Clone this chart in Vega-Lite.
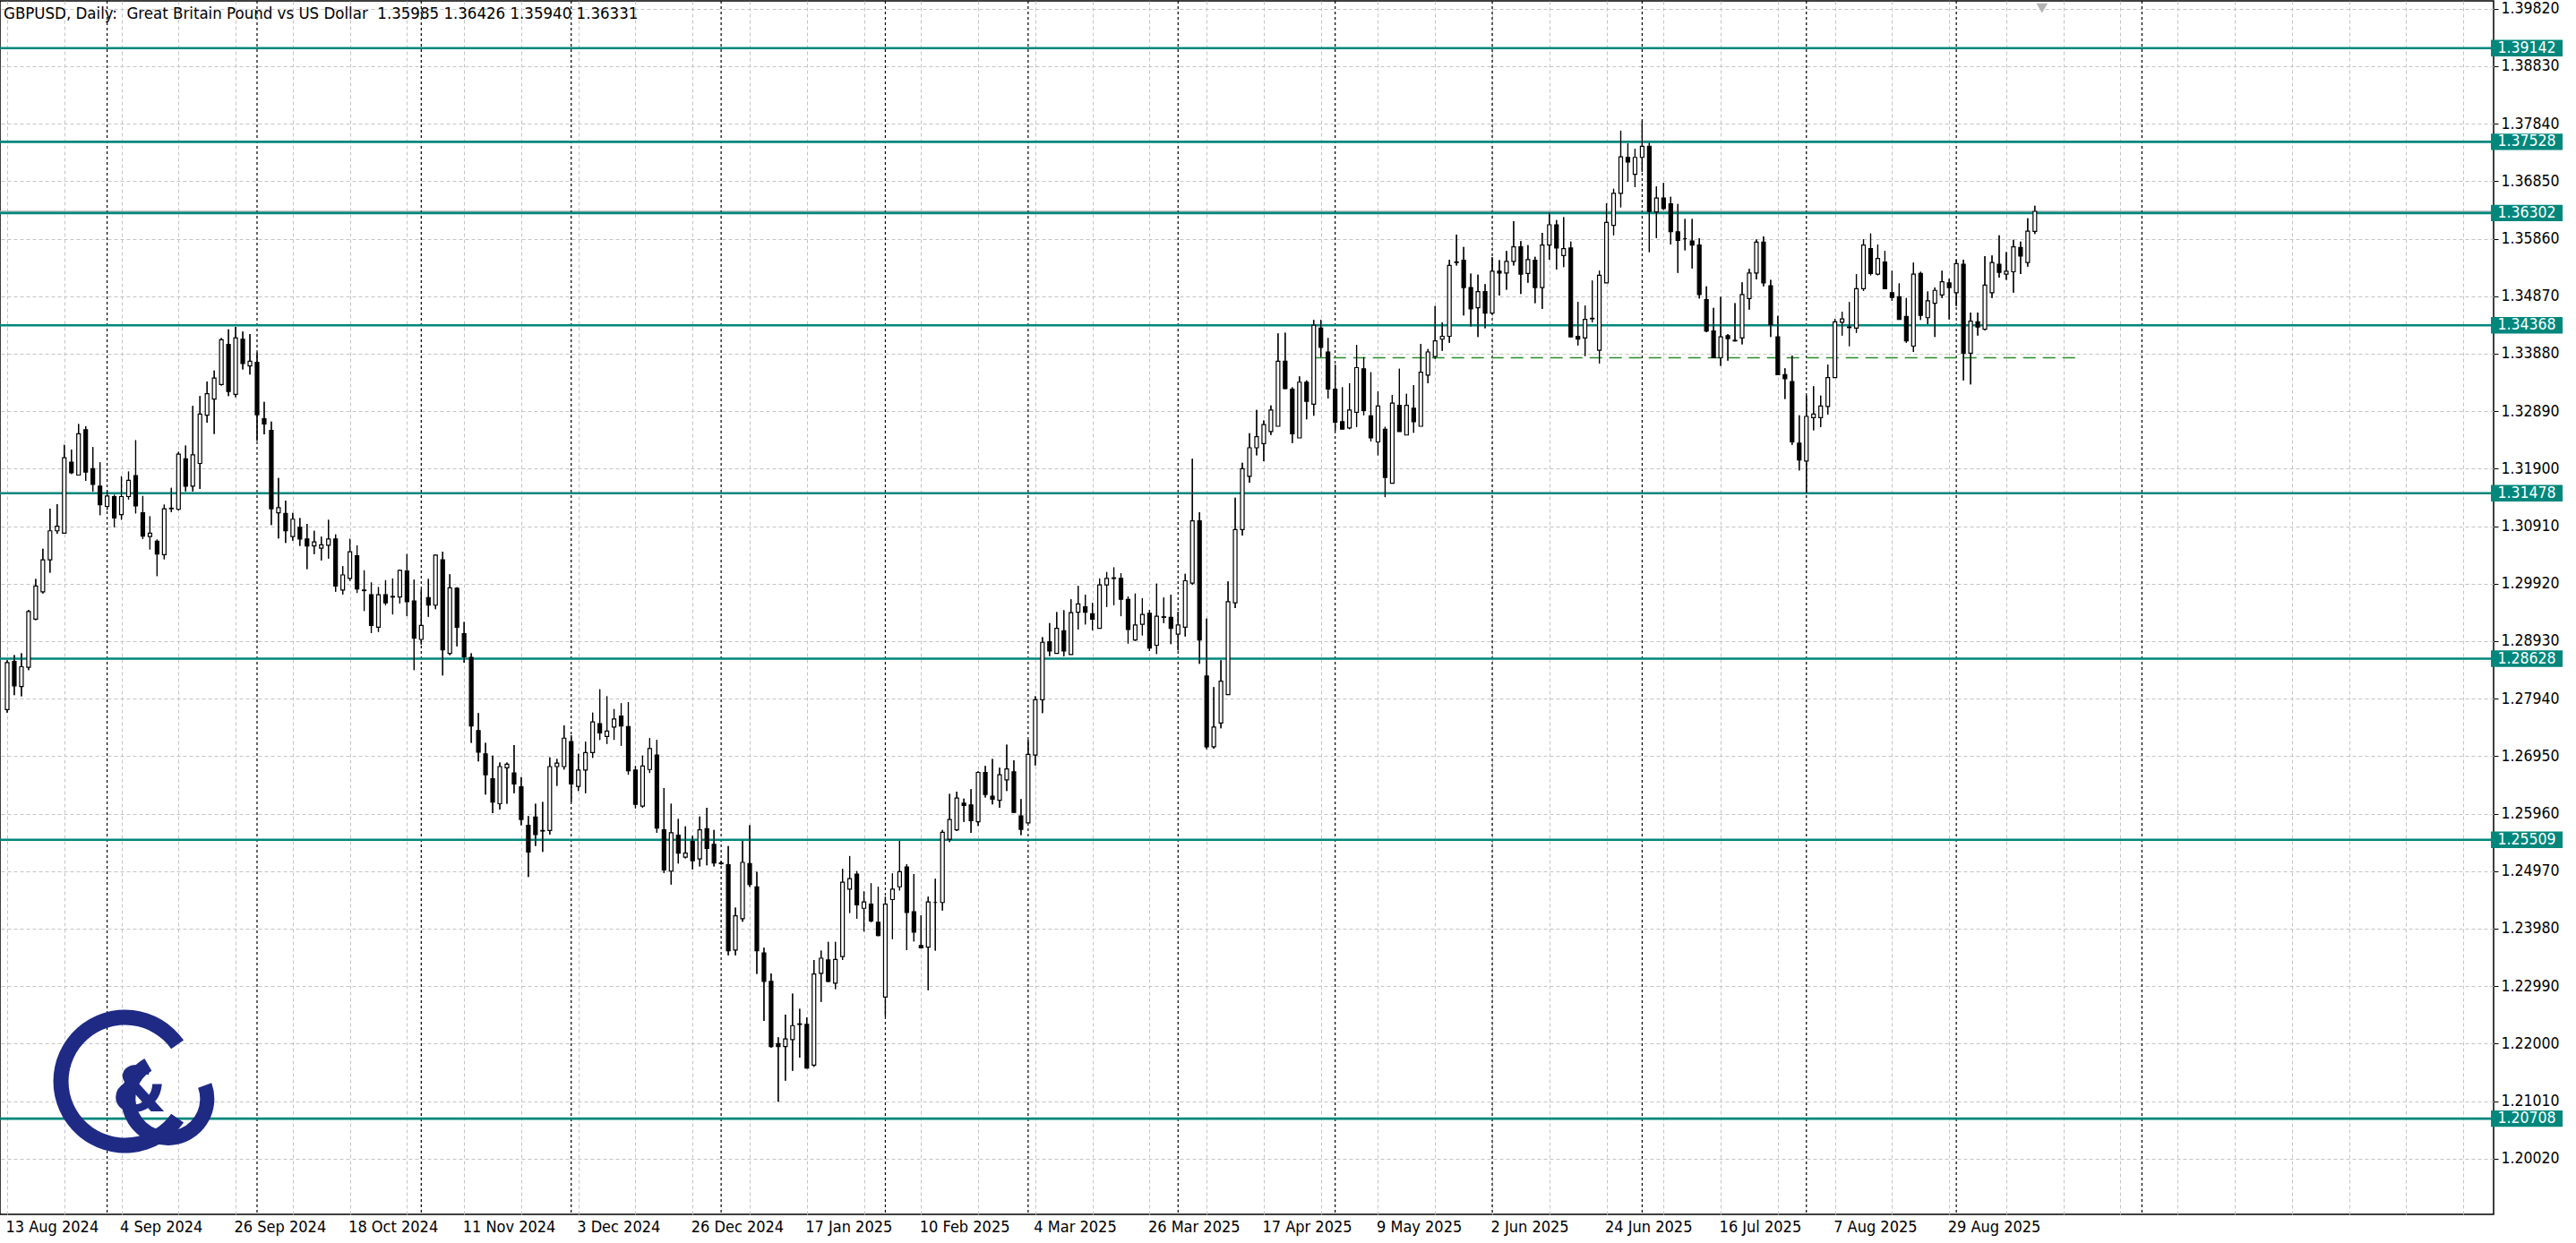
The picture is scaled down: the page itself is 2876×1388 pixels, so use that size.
{
"$schema":"https://vega.github.io/schema/vega-lite/v6.json",
"width":2784,"height":1355,"autosize":"none",
"padding":{"left":0,"top":1,"right":92,"bottom":32},
"background":"white",
"config":{"view":{"stroke":"#000000","strokeWidth":1.5},"font":"DejaVu Sans Condensed, DejaVu Sans"},
"title":{"text":"GBPUSD, Daily:\u00a0 Great Britain Pound vs US Dollar\u00a0 1.35985 1.36426 1.35940 1.36331","anchor":"start","frame":"group","offset":-24,"dx":4,"fontSize":18.5,"fontWeight":"normal","color":"#000000","font":"DejaVu Sans Condensed, DejaVu Sans"},
"datasets":{
"bars":[
{"i":0,"d":"2024-08-13","o":1.2775,"h":1.2860,"l":1.2770,"c":1.2856},
{"i":1,"d":"2024-08-14","o":1.2858,"h":1.2869,"l":1.2800,"c":1.2816},
{"i":2,"d":"2024-08-15","o":1.2815,"h":1.2872,"l":1.2798,"c":1.2849},
{"i":3,"d":"2024-08-16","o":1.2848,"h":1.2947,"l":1.2843,"c":1.2944},
{"i":4,"d":"2024-08-19","o":1.2931,"h":1.3000,"l":1.2929,"c":1.2988},
{"i":5,"d":"2024-08-20","o":1.2978,"h":1.3052,"l":1.2975,"c":1.3033},
{"i":6,"d":"2024-08-21","o":1.3033,"h":1.3121,"l":1.3011,"c":1.3083},
{"i":7,"d":"2024-08-22","o":1.3083,"h":1.3129,"l":1.3078,"c":1.3091},
{"i":8,"d":"2024-08-23","o":1.3079,"h":1.3231,"l":1.3079,"c":1.3209},
{"i":9,"d":"2024-08-26","o":1.3201,"h":1.3223,"l":1.3181,"c":1.3183},
{"i":10,"d":"2024-08-27","o":1.3179,"h":1.3267,"l":1.3179,"c":1.3250},
{"i":11,"d":"2024-08-28","o":1.3257,"h":1.3263,"l":1.3169,"c":1.3184},
{"i":12,"d":"2024-08-29","o":1.3190,"h":1.3227,"l":1.3151,"c":1.3163},
{"i":13,"d":"2024-08-30","o":1.3160,"h":1.3201,"l":1.3110,"c":1.3128},
{"i":14,"d":"2024-09-02","o":1.3125,"h":1.3151,"l":1.3119,"c":1.3143},
{"i":15,"d":"2024-09-03","o":1.3142,"h":1.3145,"l":1.3089,"c":1.3105},
{"i":16,"d":"2024-09-04","o":1.3111,"h":1.3177,"l":1.3102,"c":1.3142},
{"i":17,"d":"2024-09-05","o":1.3142,"h":1.3185,"l":1.3137,"c":1.3170},
{"i":18,"d":"2024-09-06","o":1.3178,"h":1.3239,"l":1.3113,"c":1.3126},
{"i":19,"d":"2024-09-09","o":1.3114,"h":1.3143,"l":1.3069,"c":1.3074},
{"i":20,"d":"2024-09-10","o":1.3073,"h":1.3108,"l":1.3051,"c":1.3079},
{"i":21,"d":"2024-09-11","o":1.3065,"h":1.3068,"l":1.3005,"c":1.3043},
{"i":22,"d":"2024-09-12","o":1.3042,"h":1.3128,"l":1.3034,"c":1.3121},
{"i":23,"d":"2024-09-13","o":1.3121,"h":1.3157,"l":1.3115,"c":1.3122},
{"i":24,"d":"2024-09-16","o":1.3120,"h":1.3219,"l":1.3118,"c":1.3215},
{"i":25,"d":"2024-09-17","o":1.3207,"h":1.3230,"l":1.3151,"c":1.3160},
{"i":26,"d":"2024-09-18","o":1.3160,"h":1.3298,"l":1.3151,"c":1.3214},
{"i":27,"d":"2024-09-19","o":1.3199,"h":1.3315,"l":1.3155,"c":1.3284},
{"i":28,"d":"2024-09-20","o":1.3282,"h":1.3340,"l":1.3269,"c":1.3319},
{"i":29,"d":"2024-09-23","o":1.3310,"h":1.3359,"l":1.3250,"c":1.3346},
{"i":30,"d":"2024-09-24","o":1.3335,"h":1.3415,"l":1.3333,"c":1.3412},
{"i":31,"d":"2024-09-25","o":1.3404,"h":1.3430,"l":1.3315,"c":1.3323},
{"i":32,"d":"2024-09-26","o":1.3318,"h":1.3434,"l":1.3313,"c":1.3415},
{"i":33,"d":"2024-09-27","o":1.3413,"h":1.3426,"l":1.3361,"c":1.3371},
{"i":34,"d":"2024-09-30","o":1.3367,"h":1.3422,"l":1.3352,"c":1.3375},
{"i":35,"d":"2024-10-01","o":1.3373,"h":1.3390,"l":1.3238,"c":1.3283},
{"i":36,"d":"2024-10-02","o":1.3276,"h":1.3305,"l":1.3249,"c":1.3267},
{"i":37,"d":"2024-10-03","o":1.3256,"h":1.3271,"l":1.3093,"c":1.3121},
{"i":38,"d":"2024-10-04","o":1.3114,"h":1.3174,"l":1.3070,"c":1.3123},
{"i":39,"d":"2024-10-07","o":1.3113,"h":1.3135,"l":1.3062,"c":1.3083},
{"i":40,"d":"2024-10-08","o":1.3073,"h":1.3114,"l":1.3066,"c":1.3103},
{"i":41,"d":"2024-10-09","o":1.3089,"h":1.3105,"l":1.3057,"c":1.3069},
{"i":42,"d":"2024-10-10","o":1.3069,"h":1.3095,"l":1.3017,"c":1.3057},
{"i":43,"d":"2024-10-11","o":1.3057,"h":1.3083,"l":1.3043,"c":1.3064},
{"i":44,"d":"2024-10-14","o":1.3053,"h":1.3073,"l":1.3032,"c":1.3059},
{"i":45,"d":"2024-10-15","o":1.3058,"h":1.3102,"l":1.3035,"c":1.3069},
{"i":46,"d":"2024-10-16","o":1.3069,"h":1.3077,"l":1.2978,"c":1.2988},
{"i":47,"d":"2024-10-17","o":1.2981,"h":1.3022,"l":1.2973,"c":1.3007},
{"i":48,"d":"2024-10-18","o":1.3001,"h":1.3069,"l":1.2997,"c":1.3047},
{"i":49,"d":"2024-10-21","o":1.3040,"h":1.3058,"l":1.2976,"c":1.2983},
{"i":50,"d":"2024-10-22","o":1.2981,"h":1.3015,"l":1.2945,"c":1.2980},
{"i":51,"d":"2024-10-23","o":1.2973,"h":1.2994,"l":1.2907,"c":1.2920},
{"i":52,"d":"2024-10-24","o":1.2917,"h":1.2986,"l":1.2909,"c":1.2973},
{"i":53,"d":"2024-10-25","o":1.2973,"h":1.2998,"l":1.2955,"c":1.2959},
{"i":54,"d":"2024-10-28","o":1.2969,"h":1.3001,"l":1.2939,"c":1.2970},
{"i":55,"d":"2024-10-29","o":1.2969,"h":1.3016,"l":1.2958,"c":1.3015},
{"i":56,"d":"2024-10-30","o":1.3014,"h":1.3043,"l":1.2936,"c":1.2961},
{"i":57,"d":"2024-10-31","o":1.2962,"h":1.2999,"l":1.2843,"c":1.2898},
{"i":58,"d":"2024-11-01","o":1.2896,"h":1.2982,"l":1.2887,"c":1.2920},
{"i":59,"d":"2024-11-04","o":1.2968,"h":1.3000,"l":1.2935,"c":1.2955},
{"i":60,"d":"2024-11-05","o":1.2955,"h":1.3042,"l":1.2948,"c":1.3041},
{"i":61,"d":"2024-11-06","o":1.3033,"h":1.3047,"l":1.2834,"c":1.2878},
{"i":62,"d":"2024-11-07","o":1.2872,"h":1.3008,"l":1.2869,"c":1.2985},
{"i":63,"d":"2024-11-08","o":1.2984,"h":1.2986,"l":1.2884,"c":1.2917},
{"i":64,"d":"2024-11-11","o":1.2906,"h":1.2926,"l":1.2856,"c":1.2866},
{"i":65,"d":"2024-11-12","o":1.2865,"h":1.2872,"l":1.2718,"c":1.2747},
{"i":66,"d":"2024-11-13","o":1.2739,"h":1.2769,"l":1.2686,"c":1.2702},
{"i":67,"d":"2024-11-14","o":1.2699,"h":1.2718,"l":1.2629,"c":1.2663},
{"i":68,"d":"2024-11-15","o":1.2656,"h":1.2696,"l":1.2597,"c":1.2616},
{"i":69,"d":"2024-11-18","o":1.2613,"h":1.2684,"l":1.2603,"c":1.2677},
{"i":70,"d":"2024-11-19","o":1.2675,"h":1.2684,"l":1.2613,"c":1.2681},
{"i":71,"d":"2024-11-20","o":1.2666,"h":1.2714,"l":1.2631,"c":1.2647},
{"i":72,"d":"2024-11-21","o":1.2642,"h":1.2659,"l":1.2576,"c":1.2586},
{"i":73,"d":"2024-11-22","o":1.2576,"h":1.2592,"l":1.2487,"c":1.2530},
{"i":74,"d":"2024-11-25","o":1.2590,"h":1.2613,"l":1.2540,"c":1.2560},
{"i":75,"d":"2024-11-26","o":1.2566,"h":1.2616,"l":1.2530,"c":1.2567},
{"i":76,"d":"2024-11-27","o":1.2567,"h":1.2693,"l":1.2560,"c":1.2677},
{"i":77,"d":"2024-11-28","o":1.2677,"h":1.2690,"l":1.2644,"c":1.2683},
{"i":78,"d":"2024-11-29","o":1.2677,"h":1.2748,"l":1.2672,"c":1.2726},
{"i":79,"d":"2024-12-02","o":1.2720,"h":1.2731,"l":1.2616,"c":1.2647},
{"i":80,"d":"2024-12-03","o":1.2643,"h":1.2699,"l":1.2635,"c":1.2671},
{"i":81,"d":"2024-12-04","o":1.2671,"h":1.2720,"l":1.2631,"c":1.2701},
{"i":82,"d":"2024-12-05","o":1.2701,"h":1.2770,"l":1.2692,"c":1.2754},
{"i":83,"d":"2024-12-06","o":1.2751,"h":1.2810,"l":1.2723,"c":1.2735},
{"i":84,"d":"2024-12-09","o":1.2729,"h":1.2798,"l":1.2716,"c":1.2738},
{"i":85,"d":"2024-12-10","o":1.2745,"h":1.2776,"l":1.2723,"c":1.2759},
{"i":86,"d":"2024-12-11","o":1.2764,"h":1.2786,"l":1.2713,"c":1.2747},
{"i":87,"d":"2024-12-12","o":1.2746,"h":1.2788,"l":1.2663,"c":1.2670},
{"i":88,"d":"2024-12-13","o":1.2671,"h":1.2678,"l":1.2605,"c":1.2612},
{"i":89,"d":"2024-12-16","o":1.2609,"h":1.2696,"l":1.2606,"c":1.2678},
{"i":90,"d":"2024-12-17","o":1.2672,"h":1.2726,"l":1.2666,"c":1.2708},
{"i":91,"d":"2024-12-18","o":1.2697,"h":1.2723,"l":1.2563,"c":1.2571},
{"i":92,"d":"2024-12-19","o":1.2568,"h":1.2640,"l":1.2494,"c":1.2499},
{"i":93,"d":"2024-12-20","o":1.2497,"h":1.2613,"l":1.2474,"c":1.2563},
{"i":94,"d":"2024-12-23","o":1.2559,"h":1.2587,"l":1.2510,"c":1.2528},
{"i":95,"d":"2024-12-24","o":1.2521,"h":1.2574,"l":1.2519,"c":1.2528},
{"i":96,"d":"2024-12-26","o":1.2548,"h":1.2558,"l":1.2500,"c":1.2515},
{"i":97,"d":"2024-12-27","o":1.2518,"h":1.2591,"l":1.2505,"c":1.2568},
{"i":98,"d":"2024-12-30","o":1.2570,"h":1.2606,"l":1.2507,"c":1.2536},
{"i":99,"d":"2024-12-31","o":1.2543,"h":1.2568,"l":1.2505,"c":1.2511},
{"i":100,"d":"2025-01-01","o":1.2511,"h":1.2514,"l":1.2508,"c":1.2510},
{"i":101,"d":"2025-01-02","o":1.2508,"h":1.2540,"l":1.2352,"c":1.2360},
{"i":102,"d":"2025-01-03","o":1.2361,"h":1.2434,"l":1.2352,"c":1.2420},
{"i":103,"d":"2025-01-06","o":1.2415,"h":1.2549,"l":1.2410,"c":1.2512},
{"i":104,"d":"2025-01-07","o":1.2510,"h":1.2576,"l":1.2470,"c":1.2474},
{"i":105,"d":"2025-01-08","o":1.2470,"h":1.2496,"l":1.2320,"c":1.2360},
{"i":106,"d":"2025-01-09","o":1.2356,"h":1.2365,"l":1.2239,"c":1.2307},
{"i":107,"d":"2025-01-10","o":1.2307,"h":1.2321,"l":1.2193,"c":1.2195},
{"i":108,"d":"2025-01-13","o":1.2200,"h":1.2211,"l":1.2100,"c":1.2195},
{"i":109,"d":"2025-01-14","o":1.2195,"h":1.2250,"l":1.2136,"c":1.2208},
{"i":110,"d":"2025-01-15","o":1.2207,"h":1.2286,"l":1.2153,"c":1.2231},
{"i":111,"d":"2025-01-16","o":1.2233,"h":1.2260,"l":1.2176,"c":1.2234},
{"i":112,"d":"2025-01-17","o":1.2233,"h":1.2245,"l":1.2157,"c":1.2158},
{"i":113,"d":"2025-01-20","o":1.2163,"h":1.2344,"l":1.2160,"c":1.2320},
{"i":114,"d":"2025-01-21","o":1.2321,"h":1.2360,"l":1.2272,"c":1.2347},
{"i":115,"d":"2025-01-22","o":1.2344,"h":1.2375,"l":1.2306,"c":1.2307},
{"i":116,"d":"2025-01-23","o":1.2304,"h":1.2375,"l":1.2294,"c":1.2345},
{"i":117,"d":"2025-01-24","o":1.2350,"h":1.2501,"l":1.2344,"c":1.2478},
{"i":118,"d":"2025-01-27","o":1.2466,"h":1.2523,"l":1.2425,"c":1.2484},
{"i":119,"d":"2025-01-28","o":1.2492,"h":1.2497,"l":1.2415,"c":1.2439},
{"i":120,"d":"2025-01-29","o":1.2433,"h":1.2462,"l":1.2393,"c":1.2444},
{"i":121,"d":"2025-01-30","o":1.2440,"h":1.2476,"l":1.2409,"c":1.2411},
{"i":122,"d":"2025-01-31","o":1.2409,"h":1.2470,"l":1.2385,"c":1.2386},
{"i":123,"d":"2025-02-03","o":1.2280,"h":1.2453,"l":1.2247,"c":1.2440},
{"i":124,"d":"2025-02-04","o":1.2448,"h":1.2493,"l":1.2380,"c":1.2466},
{"i":125,"d":"2025-02-05","o":1.2470,"h":1.2549,"l":1.2464,"c":1.2496},
{"i":126,"d":"2025-02-06","o":1.2504,"h":1.2509,"l":1.2361,"c":1.2426},
{"i":127,"d":"2025-02-07","o":1.2427,"h":1.2492,"l":1.2376,"c":1.2392},
{"i":128,"d":"2025-02-10","o":1.2369,"h":1.2421,"l":1.2365,"c":1.2365},
{"i":129,"d":"2025-02-11","o":1.2366,"h":1.2453,"l":1.2292,"c":1.2444},
{"i":130,"d":"2025-02-12","o":1.2443,"h":1.2484,"l":1.2360,"c":1.2443},
{"i":131,"d":"2025-02-13","o":1.2443,"h":1.2568,"l":1.2429,"c":1.2564},
{"i":132,"d":"2025-02-14","o":1.2552,"h":1.2630,"l":1.2547,"c":1.2586},
{"i":133,"d":"2025-02-17","o":1.2568,"h":1.2634,"l":1.2566,"c":1.2623},
{"i":134,"d":"2025-02-18","o":1.2614,"h":1.2622,"l":1.2582,"c":1.2610},
{"i":135,"d":"2025-02-19","o":1.2611,"h":1.2638,"l":1.2563,"c":1.2584},
{"i":136,"d":"2025-02-20","o":1.2582,"h":1.2669,"l":1.2575,"c":1.2667},
{"i":137,"d":"2025-02-21","o":1.2667,"h":1.2678,"l":1.2624,"c":1.2629},
{"i":138,"d":"2025-02-24","o":1.2626,"h":1.2690,"l":1.2612,"c":1.2621},
{"i":139,"d":"2025-02-25","o":1.2619,"h":1.2675,"l":1.2606,"c":1.2663},
{"i":140,"d":"2025-02-26","o":1.2654,"h":1.2715,"l":1.2635,"c":1.2673},
{"i":141,"d":"2025-02-27","o":1.2668,"h":1.2688,"l":1.2598,"c":1.2598},
{"i":142,"d":"2025-02-28","o":1.2592,"h":1.2621,"l":1.2559,"c":1.2569},
{"i":143,"d":"2025-03-03","o":1.2580,"h":1.2723,"l":1.2580,"c":1.2698},
{"i":144,"d":"2025-03-04","o":1.2697,"h":1.2798,"l":1.2679,"c":1.2792},
{"i":145,"d":"2025-03-05","o":1.2792,"h":1.2900,"l":1.2769,"c":1.2891},
{"i":146,"d":"2025-03-06","o":1.2892,"h":1.2924,"l":1.2867,"c":1.2876},
{"i":147,"d":"2025-03-07","o":1.2872,"h":1.2943,"l":1.2872,"c":1.2915},
{"i":148,"d":"2025-03-10","o":1.2911,"h":1.2946,"l":1.2867,"c":1.2876},
{"i":149,"d":"2025-03-11","o":1.2870,"h":1.2965,"l":1.2870,"c":1.2942},
{"i":150,"d":"2025-03-12","o":1.2943,"h":1.2988,"l":1.2913,"c":1.2957},
{"i":151,"d":"2025-03-13","o":1.2952,"h":1.2973,"l":1.2922,"c":1.2943},
{"i":152,"d":"2025-03-14","o":1.2940,"h":1.2959,"l":1.2912,"c":1.2931},
{"i":153,"d":"2025-03-17","o":1.2915,"h":1.3001,"l":1.2915,"c":1.2990},
{"i":154,"d":"2025-03-18","o":1.2990,"h":1.3012,"l":1.2952,"c":1.3001},
{"i":155,"d":"2025-03-19","o":1.3001,"h":1.3020,"l":1.2955,"c":1.3002},
{"i":156,"d":"2025-03-20","o":1.3001,"h":1.3010,"l":1.2936,"c":1.2965},
{"i":157,"d":"2025-03-21","o":1.2965,"h":1.2970,"l":1.2889,"c":1.2913},
{"i":158,"d":"2025-03-24","o":1.2895,"h":1.2975,"l":1.2893,"c":1.2921},
{"i":159,"d":"2025-03-25","o":1.2922,"h":1.2967,"l":1.2903,"c":1.2939},
{"i":160,"d":"2025-03-26","o":1.2941,"h":1.2947,"l":1.2876,"c":1.2881},
{"i":161,"d":"2025-03-27","o":1.2886,"h":1.2992,"l":1.2871,"c":1.2936},
{"i":162,"d":"2025-03-28","o":1.2934,"h":1.2968,"l":1.2924,"c":1.2935},
{"i":163,"d":"2025-03-31","o":1.2934,"h":1.2973,"l":1.2888,"c":1.2915},
{"i":164,"d":"2025-04-01","o":1.2905,"h":1.2944,"l":1.2877,"c":1.2921},
{"i":165,"d":"2025-04-02","o":1.2917,"h":1.3009,"l":1.2901,"c":1.2997},
{"i":166,"d":"2025-04-03","o":1.2993,"h":1.3207,"l":1.2990,"c":1.3100},
{"i":167,"d":"2025-04-04","o":1.3100,"h":1.3115,"l":1.2854,"c":1.2895},
{"i":168,"d":"2025-04-07","o":1.2833,"h":1.2932,"l":1.2707,"c":1.2711},
{"i":169,"d":"2025-04-08","o":1.2711,"h":1.2814,"l":1.2708,"c":1.2745},
{"i":170,"d":"2025-04-09","o":1.2752,"h":1.2860,"l":1.2743,"c":1.2824},
{"i":171,"d":"2025-04-10","o":1.2801,"h":1.2996,"l":1.2801,"c":1.2961},
{"i":172,"d":"2025-04-11","o":1.2959,"h":1.3140,"l":1.2950,"c":1.3085},
{"i":173,"d":"2025-04-14","o":1.3085,"h":1.3200,"l":1.3075,"c":1.3190},
{"i":174,"d":"2025-04-15","o":1.3177,"h":1.3251,"l":1.3166,"c":1.3226},
{"i":175,"d":"2025-04-16","o":1.3226,"h":1.3291,"l":1.3213,"c":1.3245},
{"i":176,"d":"2025-04-17","o":1.3233,"h":1.3273,"l":1.3203,"c":1.3266},
{"i":177,"d":"2025-04-18","o":1.3254,"h":1.3299,"l":1.3248,"c":1.3291},
{"i":178,"d":"2025-04-21","o":1.3263,"h":1.3423,"l":1.3263,"c":1.3375},
{"i":179,"d":"2025-04-22","o":1.3375,"h":1.3424,"l":1.3327,"c":1.3328},
{"i":180,"d":"2025-04-23","o":1.3327,"h":1.3330,"l":1.3234,"c":1.3250},
{"i":181,"d":"2025-04-24","o":1.3243,"h":1.3349,"l":1.3243,"c":1.3339},
{"i":182,"d":"2025-04-25","o":1.3339,"h":1.3342,"l":1.3275,"c":1.3306},
{"i":183,"d":"2025-04-28","o":1.3301,"h":1.3446,"l":1.3281,"c":1.3437},
{"i":184,"d":"2025-04-29","o":1.3432,"h":1.3446,"l":1.3382,"c":1.3399},
{"i":185,"d":"2025-04-30","o":1.3391,"h":1.3415,"l":1.3311,"c":1.3327},
{"i":186,"d":"2025-05-01","o":1.3327,"h":1.3369,"l":1.3255,"c":1.3270},
{"i":187,"d":"2025-05-02","o":1.3271,"h":1.3330,"l":1.3258,"c":1.3258},
{"i":188,"d":"2025-05-05","o":1.3260,"h":1.3337,"l":1.3258,"c":1.3291},
{"i":189,"d":"2025-05-06","o":1.3287,"h":1.3403,"l":1.3262,"c":1.3364},
{"i":190,"d":"2025-05-07","o":1.3362,"h":1.3382,"l":1.3282,"c":1.3290},
{"i":191,"d":"2025-05-08","o":1.3281,"h":1.3356,"l":1.3237,"c":1.3243},
{"i":192,"d":"2025-05-09","o":1.3236,"h":1.3323,"l":1.3213,"c":1.3298},
{"i":193,"d":"2025-05-12","o":1.3258,"h":1.3262,"l":1.3141,"c":1.3175},
{"i":194,"d":"2025-05-13","o":1.3165,"h":1.3317,"l":1.3165,"c":1.3303},
{"i":195,"d":"2025-05-14","o":1.3299,"h":1.3362,"l":1.3254,"c":1.3254},
{"i":196,"d":"2025-05-15","o":1.3248,"h":1.3319,"l":1.3248,"c":1.3299},
{"i":197,"d":"2025-05-16","o":1.3294,"h":1.3334,"l":1.3252,"c":1.3271},
{"i":198,"d":"2025-05-19","o":1.3263,"h":1.3405,"l":1.3263,"c":1.3356},
{"i":199,"d":"2025-05-20","o":1.3351,"h":1.3396,"l":1.3337,"c":1.3391},
{"i":200,"d":"2025-05-21","o":1.3383,"h":1.3470,"l":1.3379,"c":1.3410},
{"i":201,"d":"2025-05-22","o":1.3413,"h":1.3442,"l":1.3393,"c":1.3418},
{"i":202,"d":"2025-05-23","o":1.3418,"h":1.3550,"l":1.3407,"c":1.3540},
{"i":203,"d":"2025-05-26","o":1.3545,"h":1.3593,"l":1.3540,"c":1.3546},
{"i":204,"d":"2025-05-27","o":1.3549,"h":1.3572,"l":1.3454,"c":1.3502},
{"i":205,"d":"2025-05-28","o":1.3502,"h":1.3526,"l":1.3435,"c":1.3465},
{"i":206,"d":"2025-05-29","o":1.3467,"h":1.3524,"l":1.3417,"c":1.3495},
{"i":207,"d":"2025-05-30","o":1.3495,"h":1.3508,"l":1.3432,"c":1.3458},
{"i":208,"d":"2025-06-02","o":1.3458,"h":1.3554,"l":1.3456,"c":1.3530},
{"i":209,"d":"2025-06-03","o":1.3530,"h":1.3549,"l":1.3488,"c":1.3527},
{"i":210,"d":"2025-06-04","o":1.3527,"h":1.3565,"l":1.3498,"c":1.3547},
{"i":211,"d":"2025-06-05","o":1.3547,"h":1.3616,"l":1.3540,"c":1.3572},
{"i":212,"d":"2025-06-06","o":1.3572,"h":1.3582,"l":1.3491,"c":1.3525},
{"i":213,"d":"2025-06-09","o":1.3526,"h":1.3575,"l":1.3510,"c":1.3550},
{"i":214,"d":"2025-06-10","o":1.3549,"h":1.3555,"l":1.3475,"c":1.3502},
{"i":215,"d":"2025-06-11","o":1.3502,"h":1.3596,"l":1.3465,"c":1.3575},
{"i":216,"d":"2025-06-12","o":1.3575,"h":1.3631,"l":1.3550,"c":1.3610},
{"i":217,"d":"2025-06-13","o":1.3610,"h":1.3618,"l":1.3533,"c":1.3570},
{"i":218,"d":"2025-06-16","o":1.3557,"h":1.3623,"l":1.3537,"c":1.3569},
{"i":219,"d":"2025-06-17","o":1.3570,"h":1.3581,"l":1.3416,"c":1.3417},
{"i":220,"d":"2025-06-18","o":1.3418,"h":1.3477,"l":1.3402,"c":1.3413},
{"i":221,"d":"2025-06-19","o":1.3415,"h":1.3471,"l":1.3384,"c":1.3447},
{"i":222,"d":"2025-06-20","o":1.3448,"h":1.3514,"l":1.3442,"c":1.3449},
{"i":223,"d":"2025-06-23","o":1.3394,"h":1.3531,"l":1.3371,"c":1.3523},
{"i":224,"d":"2025-06-24","o":1.3510,"h":1.3647,"l":1.3510,"c":1.3614},
{"i":225,"d":"2025-06-25","o":1.3609,"h":1.3672,"l":1.3592,"c":1.3664},
{"i":226,"d":"2025-06-26","o":1.3664,"h":1.3772,"l":1.3640,"c":1.3727},
{"i":227,"d":"2025-06-27","o":1.3726,"h":1.3750,"l":1.3684,"c":1.3718},
{"i":228,"d":"2025-06-30","o":1.3697,"h":1.3741,"l":1.3675,"c":1.3726},
{"i":229,"d":"2025-07-01","o":1.3726,"h":1.3789,"l":1.3701,"c":1.3745},
{"i":230,"d":"2025-07-02","o":1.3745,"h":1.3751,"l":1.3563,"c":1.3633},
{"i":231,"d":"2025-07-03","o":1.3632,"h":1.3676,"l":1.3587,"c":1.3656},
{"i":232,"d":"2025-07-04","o":1.3656,"h":1.3682,"l":1.3636,"c":1.3638},
{"i":233,"d":"2025-07-07","o":1.3646,"h":1.3658,"l":1.3576,"c":1.3598},
{"i":234,"d":"2025-07-08","o":1.3598,"h":1.3646,"l":1.3527,"c":1.3583},
{"i":235,"d":"2025-07-09","o":1.3586,"h":1.3620,"l":1.3566,"c":1.3586},
{"i":236,"d":"2025-07-10","o":1.3582,"h":1.3620,"l":1.3535,"c":1.3575},
{"i":237,"d":"2025-07-11","o":1.3575,"h":1.3587,"l":1.3483,"c":1.3490},
{"i":238,"d":"2025-07-14","o":1.3481,"h":1.3504,"l":1.3425,"c":1.3427},
{"i":239,"d":"2025-07-15","o":1.3427,"h":1.3467,"l":1.3381,"c":1.3381},
{"i":240,"d":"2025-07-16","o":1.3381,"h":1.3486,"l":1.3367,"c":1.3417},
{"i":241,"d":"2025-07-17","o":1.3419,"h":1.3422,"l":1.3376,"c":1.3414},
{"i":242,"d":"2025-07-18","o":1.3410,"h":1.3475,"l":1.3409,"c":1.3411},
{"i":243,"d":"2025-07-21","o":1.3415,"h":1.3511,"l":1.3404,"c":1.3490},
{"i":244,"d":"2025-07-22","o":1.3483,"h":1.3534,"l":1.3464,"c":1.3527},
{"i":245,"d":"2025-07-23","o":1.3527,"h":1.3585,"l":1.3516,"c":1.3580},
{"i":246,"d":"2025-07-24","o":1.3580,"h":1.3590,"l":1.3504,"c":1.3510},
{"i":247,"d":"2025-07-25","o":1.3505,"h":1.3515,"l":1.3417,"c":1.3438},
{"i":248,"d":"2025-07-28","o":1.3417,"h":1.3453,"l":1.3352,"c":1.3352},
{"i":249,"d":"2025-07-29","o":1.3352,"h":1.3363,"l":1.3310,"c":1.3345},
{"i":250,"d":"2025-07-30","o":1.3340,"h":1.3385,"l":1.3231,"c":1.3236},
{"i":251,"d":"2025-07-31","o":1.3234,"h":1.3282,"l":1.3187,"c":1.3205},
{"i":252,"d":"2025-08-01","o":1.3203,"h":1.3316,"l":1.3148,"c":1.3280},
{"i":253,"d":"2025-08-04","o":1.3278,"h":1.3332,"l":1.3256,"c":1.3284},
{"i":254,"d":"2025-08-05","o":1.3278,"h":1.3316,"l":1.3262,"c":1.3298},
{"i":255,"d":"2025-08-06","o":1.3297,"h":1.3369,"l":1.3283,"c":1.3347},
{"i":256,"d":"2025-08-07","o":1.3347,"h":1.3448,"l":1.3347,"c":1.3443},
{"i":257,"d":"2025-08-08","o":1.3442,"h":1.3460,"l":1.3419,"c":1.3448},
{"i":258,"d":"2025-08-11","o":1.3433,"h":1.3477,"l":1.3401,"c":1.3434},
{"i":259,"d":"2025-08-12","o":1.3432,"h":1.3525,"l":1.3424,"c":1.3500},
{"i":260,"d":"2025-08-13","o":1.3500,"h":1.3585,"l":1.3496,"c":1.3575},
{"i":261,"d":"2025-08-14","o":1.3569,"h":1.3595,"l":1.3523,"c":1.3526},
{"i":262,"d":"2025-08-15","o":1.3525,"h":1.3576,"l":1.3523,"c":1.3552},
{"i":263,"d":"2025-08-18","o":1.3546,"h":1.3565,"l":1.3500,"c":1.3500},
{"i":264,"d":"2025-08-19","o":1.3493,"h":1.3531,"l":1.3479,"c":1.3485},
{"i":265,"d":"2025-08-20","o":1.3486,"h":1.3509,"l":1.3447,"c":1.3447},
{"i":266,"d":"2025-08-21","o":1.3452,"h":1.3484,"l":1.3407,"c":1.3410},
{"i":267,"d":"2025-08-22","o":1.3401,"h":1.3545,"l":1.3391,"c":1.3525},
{"i":268,"d":"2025-08-25","o":1.3526,"h":1.3529,"l":1.3446,"c":1.3454},
{"i":269,"d":"2025-08-26","o":1.3450,"h":1.3495,"l":1.3439,"c":1.3479},
{"i":270,"d":"2025-08-27","o":1.3475,"h":1.3502,"l":1.3417,"c":1.3497},
{"i":271,"d":"2025-08-28","o":1.3489,"h":1.3531,"l":1.3484,"c":1.3512},
{"i":272,"d":"2025-08-29","o":1.3510,"h":1.3517,"l":1.3447,"c":1.3502},
{"i":273,"d":"2025-09-01","o":1.3493,"h":1.3550,"l":1.3470,"c":1.3543},
{"i":274,"d":"2025-09-02","o":1.3542,"h":1.3550,"l":1.3342,"c":1.3389},
{"i":275,"d":"2025-09-03","o":1.3389,"h":1.3459,"l":1.3335,"c":1.3444},
{"i":276,"d":"2025-09-04","o":1.3443,"h":1.3459,"l":1.3419,"c":1.3434},
{"i":277,"d":"2025-09-05","o":1.3430,"h":1.3556,"l":1.3428,"c":1.3506},
{"i":278,"d":"2025-09-08","o":1.3493,"h":1.3557,"l":1.3484,"c":1.3545},
{"i":279,"d":"2025-09-09","o":1.3542,"h":1.3592,"l":1.3519,"c":1.3528},
{"i":280,"d":"2025-09-10","o":1.3525,"h":1.3563,"l":1.3515,"c":1.3530},
{"i":281,"d":"2025-09-11","o":1.3529,"h":1.3584,"l":1.3493,"c":1.3572},
{"i":282,"d":"2025-09-12","o":1.3571,"h":1.3581,"l":1.3525,"c":1.3556},
{"i":283,"d":"2025-09-15","o":1.3545,"h":1.3621,"l":1.3538,"c":1.3599},
{"i":284,"d":"2025-09-16","o":1.35985,"h":1.36426,"l":1.35940,"c":1.36331}
],
"levels":[{"p":1.39142},{"p":1.37528},{"p":1.36302},{"p":1.34368},{"p":1.31478},{"p":1.28628},{"p":1.25509},{"p":1.20708}],
"seps":[{"i":14},{"i":35},{"i":58},{"i":79},{"i":100},{"i":123},{"i":143},{"i":164},{"i":186},{"i":208},{"i":229},{"i":252},{"i":273},{"i":299}],
"support":[{"p":1.3381,"from":183,"to":290}],
"bid":[{"p":1.36331}],
"logo":[{"a0":125,"a1":415,"r":"outer"},{"a0":70,"a1":330,"r":"inner"}]
},
"layer":[
{"data":{"name":"bars"},"mark":{"type":"rule","color":"#000000","strokeWidth":1.2},
 "encoding":{"x":{"field":"i","type":"quantitative","title":null,"scale":{"domain":[-0.375,347.625],"nice":false,"zero":false},
  "axis":{"orient":"bottom","values":[0,8,16,24,32,40,48,56,64,72,80,88,96,104,112,120,128,136,144,152,160,168,176,184,192,200,208,216,224,232,240,248,256,264,272,280,288,296,304,312,320,328,336,344],
   "labelExpr":"(datum.value % 16 == 0 && datum.value <= 272) ? ['13 Aug 2024','4 Sep 2024','26 Sep 2024','18 Oct 2024','11 Nov 2024','3 Dec 2024','26 Dec 2024','17 Jan 2025','10 Feb 2025','4 Mar 2025','26 Mar 2025','17 Apr 2025','9 May 2025','2 Jun 2025','24 Jun 2025','16 Jul 2025','7 Aug 2025','29 Aug 2025'][datum.value/16] : ''",
   "labelAlign":"left","labelFontSize":18,"labelColor":"#000000","labelPadding":5,"labelOffset":-2,"labelFont":"DejaVu Sans Condensed, DejaVu Sans","labelOverlap":false,"labelBound":false,"labelFlush":false,
   "grid":true,"gridColor":"#c4c4c4","gridDash":[4,3],"gridWidth":1,"domain":false,"ticks":false,"title":null}},
  "y":{"field":"l","type":"quantitative","title":null,"scale":{"domain":[1.1906,1.39955],"nice":false,"zero":false},
  "axis":{"orient":"right","values":[1.2002,1.2101,1.22,1.2299,1.2398,1.2497,1.2596,1.2695,1.2794,1.2893,1.2992,1.3091,1.319,1.3289,1.3388,1.3487,1.3586,1.3685,1.3784,1.3883,1.3982],
   "format":".5f","grid":true,"gridColor":"#c4c4c4","gridDash":[4,3],"gridWidth":1,"domain":false,"ticks":true,"tickSize":5,"tickColor":"#000000",
   "labelFontSize":17.5,"labelColor":"#000000","labelPadding":3,"labelFont":"DejaVu Sans Condensed, DejaVu Sans","title":null}},
  "y2":{"field":"h"}}},
{"data":{"name":"bid"},"mark":{"type":"rule","color":"#b0b0b0","strokeWidth":1.5},
 "encoding":{"y":{"field":"p","type":"quantitative","title":null}}},
{"data":{"name":"seps"},"mark":{"type":"rule","color":"#000000","strokeWidth":1.2,"strokeDash":[3,3]},
 "encoding":{"x":{"field":"i","type":"quantitative","title":null}}},
{"data":{"name":"levels"},"mark":{"type":"rule","color":"#00877c","strokeWidth":2.6},
 "encoding":{"y":{"field":"p","type":"quantitative","title":null}}},
{"data":{"name":"support"},"mark":{"type":"rule","color":"#2a8a2a","strokeWidth":1.4,"strokeDash":[14,8]},
 "encoding":{"x":{"field":"from","type":"quantitative","title":null},"x2":{"field":"to"},
  "y":{"field":"p","type":"quantitative","title":null}}},
{"data":{"name":"bars"},"mark":{"type":"rule","color":"#000000","strokeWidth":1.2},
 "encoding":{"x":{"field":"i","type":"quantitative","title":null},
  "y":{"field":"l","type":"quantitative","title":null},"y2":{"field":"h"}}},
{"data":{"name":"bars"},"mark":{"type":"bar","orient":"vertical","size":4,"stroke":"#000000","strokeWidth":1.2},
 "encoding":{"x":{"field":"i","type":"quantitative","title":null},
  "y":{"field":"o","type":"quantitative","title":null},"y2":{"field":"c"},
  "fill":{"condition":{"test":"datum.c >= datum.o","value":"#ffffff"},"value":"#000000"}}},
{"data":{"name":"levels"},"mark":{"type":"point","shape":"M-1,-0.23L1,-0.23L1,0.23L-1,0.23Z","size":6400,"filled":true,"color":"#00877c","opacity":1,"strokeWidth":0},
 "encoding":{"x":{"datum":352.9,"type":"quantitative","title":null},
  "y":{"field":"p","type":"quantitative","title":null}}},
{"data":{"name":"levels"},"mark":{"type":"text","color":"#ffffff","fontSize":17.5,"align":"center","baseline":"middle","font":"DejaVu Sans Condensed, DejaVu Sans"},
 "encoding":{"x":{"datum":352.9,"type":"quantitative","title":null},
  "y":{"field":"p","type":"quantitative","title":null},
  "text":{"field":"p","type":"quantitative","format":".5f"}}},
{"data":{"values":[{"m":1}]},"mark":{"type":"point","shape":"triangle-down","size":160,"filled":true,"color":"#b4b4b4","opacity":1},
 "encoding":{"x":{"datum":285,"type":"quantitative","title":null},
  "y":{"datum":1.3983,"type":"quantitative","title":null}}},
{"data":{"name":"logo"},"transform":[{"filter":"datum.r == 'outer'"}],"mark":{"type":"arc","radius":80,"radius2":63,"color":"#1f2a85"},
 "encoding":{"theta":{"field":"a0","type":"quantitative","stack":null,"scale":{"domain":[0,360],"range":[0,6.2832]}},"theta2":{"field":"a1"},
  "x":{"datum":16.5,"type":"quantitative","title":null},
  "y":{"datum":1.2135,"type":"quantitative","title":null}}},
{"data":{"name":"logo"},"transform":[{"filter":"datum.r == 'inner'"}],"mark":{"type":"arc","radius":52,"radius2":36,"color":"#1f2a85"},
 "encoding":{"theta":{"field":"a0","type":"quantitative","stack":null,"scale":{"domain":[0,360],"range":[0,6.2832]}},"theta2":{"field":"a1"},
  "x":{"datum":22.5,"type":"quantitative","title":null},
  "y":{"datum":1.2105,"type":"quantitative","title":null}}},
{"data":{"values":[{"t":"&"}]},"mark":{"type":"text","fontSize":70,"fontWeight":"bold","color":"#1f2a85","align":"center","baseline":"middle","font":"DejaVu Sans"},
 "encoding":{"text":{"field":"t"},
  "x":{"datum":18.5,"type":"quantitative","title":null},
  "y":{"datum":1.2115,"type":"quantitative","title":null}}}
]
}
